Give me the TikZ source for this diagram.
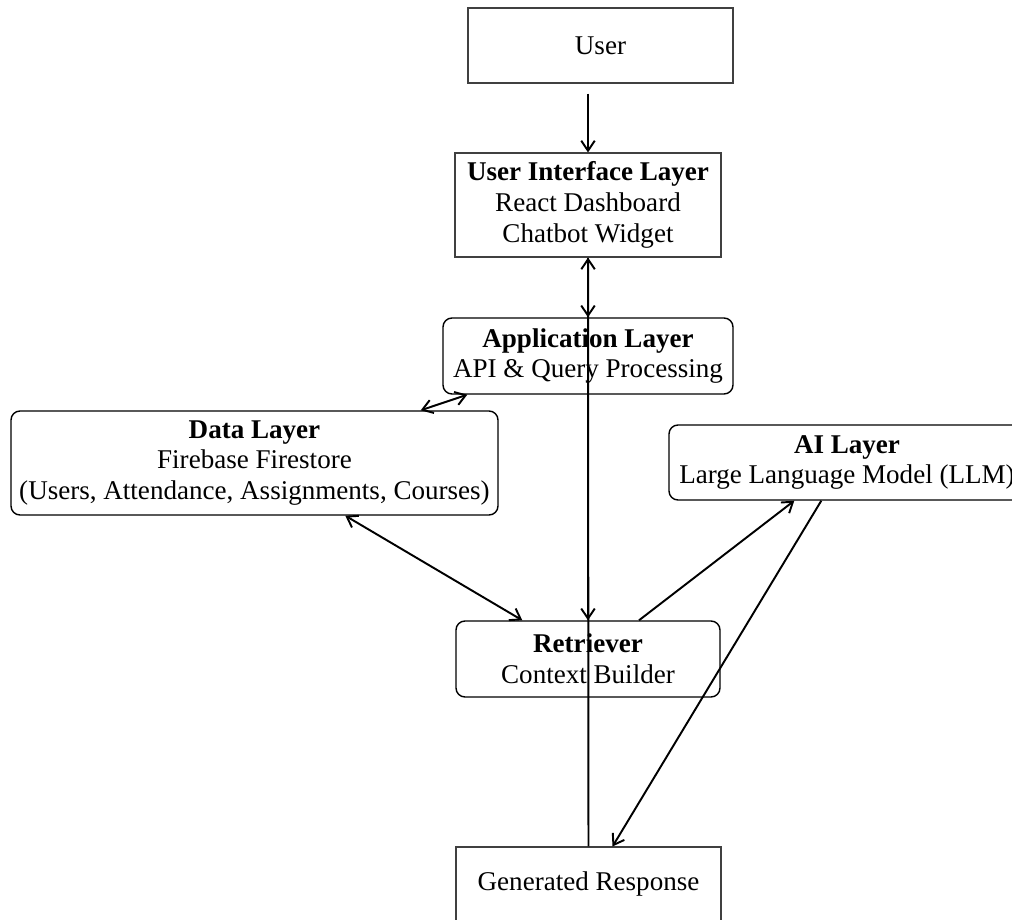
\documentclass[tikz,border=0pt]{standalone}
\usepackage{fontspec}
\setmainfont{Liberation Serif}
\usepackage{tikz}
\usetikzlibrary{positioning,arrows.meta}

\tikzset{
    layer/.style={draw=black!75, line width=0.6pt, fill=white, align=center,
        inner sep=0pt, font=\fontsize{15.4}{17.6}\selectfont},
    roundlayer/.style={layer, draw=black, line width=0.8pt, rounded corners=0.18cm},
    link/.style={line width=1.1pt},
    >={Straight Barb[length=2mm,width=2.7mm]}
}

\begin{document}
\begin{tikzpicture}[scale=1]

    \useasboundingbox (0,0) rectangle (20.24,18.38);
    \clip (0,0) rectangle (20.24,18.38);

    % the layers
    \node[layer, minimum width=5.3cm, minimum height=1.5cm] (user) at (12.01,17.47) {User};
    \node[layer, minimum width=5.32cm, minimum height=2.08cm] (ui) at (11.76,14.28)
        {\textbf{User Interface Layer}\\React Dashboard\\Chatbot Widget};
    \node[roundlayer, minimum width=5.8cm, minimum height=1.52cm] (app) at (11.76,11.26)
        {\textbf{Application Layer}\\API \& Query Processing};
    \node[roundlayer, minimum width=9.74cm, minimum height=2.08cm] (data) at (5.09,9.12)
        {\textbf{Data Layer}\\Firebase Firestore\\(Users, Attendance, Assignments, Courses)};
    \node[roundlayer, minimum width=7.12cm, minimum height=1.5cm] (ai) at (16.94,9.13)
        {\textbf{AI Layer}\\Large Language Model (LLM)};
    \node[roundlayer, minimum width=5.28cm, minimum height=1.52cm] (retriever) at (11.76,5.2)
        {\textbf{Retriever}\\Context Builder};
    \node[layer, minimum width=5.3cm, minimum height=1.48cm] (response) at (11.77,0.70)
        {Generated Response};

    % the flow
    \draw[link, ->] (user.south -| ui.north) ++(0,-0.2) -- (ui.north);
    \draw[link, ->] (ui) -- (app);
    \draw[link, ->] (response) -- (ui);
    \draw[link, ->] (app) -- (retriever);
    \draw[link, <->] ([xshift=-1.56cm]data.north east) -- ([xshift=0.5cm]app.south west);
    \draw[link, <->] ([xshift=6.7cm]data.south west) -- ([xshift=1.34cm]retriever.north west);
    \draw[link, ->] ([xshift=1.02cm]retriever.north) -- ([xshift=2.52cm]ai.south west);
    \draw[link, ->] ([xshift=3.06cm]ai.south west) -- ([xshift=0.48cm]response.north);

\end{tikzpicture}
\end{document}
